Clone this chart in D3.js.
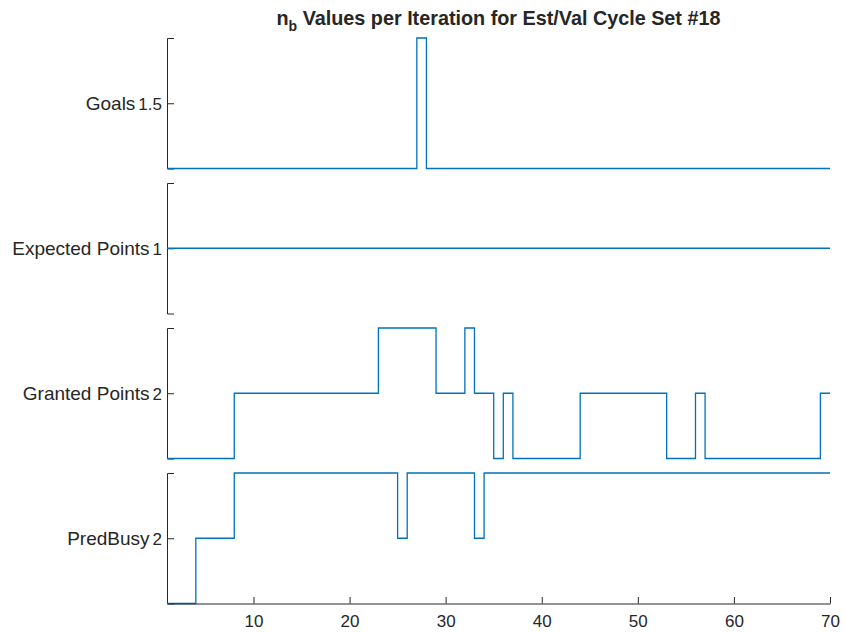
<!DOCTYPE html>
<html>
<head>
<meta charset="utf-8">
<script src="https://cdn.jsdelivr.net/npm/d3@7"></script>
<style>
  html, body { margin: 0; padding: 0; background: #ffffff; }
  svg text { font-family: "Liberation Sans", Arial, Helvetica, sans-serif; fill: #262626; }
</style>
</head>
<body>
<svg id="chart" width="846" height="633"></svg>
<script>
// n_b values per iteration, one entry per iteration (1..70)
const goals = [
  1,1,1,1,1,1,1,1,1,1,
  1,1,1,1,1,1,1,1,1,1,
  1,1,1,1,1,1,2,1,1,1,
  1,1,1,1,1,1,1,1,1,1,
  1,1,1,1,1,1,1,1,1,1,
  1,1,1,1,1,1,1,1,1,1,
  1,1,1,1,1,1,1,1,1,1
];
const expectedPoints = [
  1,1,1,1,1,1,1,1,1,1,
  1,1,1,1,1,1,1,1,1,1,
  1,1,1,1,1,1,1,1,1,1,
  1,1,1,1,1,1,1,1,1,1,
  1,1,1,1,1,1,1,1,1,1,
  1,1,1,1,1,1,1,1,1,1,
  1,1,1,1,1,1,1,1,1,1
];
const grantedPoints = [
  1,1,1,1,1,1,1,2,2,2,
  2,2,2,2,2,2,2,2,2,2,
  2,2,3,3,3,3,3,3,2,2,
  2,3,2,2,1,2,1,1,1,1,
  1,1,1,2,2,2,2,2,2,2,
  2,2,1,1,1,2,1,1,1,1,
  1,1,1,1,1,1,1,1,2,2
];
const predBusy = [
  1,1,1,2,2,2,2,3,3,3,
  3,3,3,3,3,3,3,3,3,3,
  3,3,3,3,2,3,3,3,3,3,
  3,3,2,3,3,3,3,3,3,3,
  3,3,3,3,3,3,3,3,3,3,
  3,3,3,3,3,3,3,3,3,3,
  3,3,3,3,3,3,3,3,3,3
];

const panelNames  = ["Goals", "Expected Points", "Granted Points", "PredBusy"];
const panelDomains = [[1, 2], [0.5, 1.5], [1, 3], [1, 3]];
const panelTicks   = [[1.5], [1], [2], [2]];
const xTicks = [10, 20, 30, 40, 50, 60, 70];
const title = "Values per Iteration for Est/Val Cycle Set #18";

const series = [goals, expectedPoints, grantedPoints, predBusy];

const svg = d3.select("#chart");
const axisColor = "#262626";
const lineColor = "#0072BD";

const left = 167, right = 830;
const panelTop0 = 38, panelStep = 145, panelH = 130.5;

const x = d3.scaleLinear().domain([1, 70]).range([left, right]);

series.forEach((vals, i) => {
  const top = panelTop0 + i * panelStep;
  const y = d3.scaleLinear().domain(panelDomains[i]).range([top + panelH, top]);
  const g = svg.append("g");

  // y axis with inward ticks
  const yAxis = d3.axisLeft(y)
    .tickValues(panelTicks[i])
    .tickSizeInner(-7)
    .tickSizeOuter(-7)
    .tickPadding(5)
    .tickFormat(d3.format(""));
  const ya = g.append("g").attr("transform", `translate(${left},0)`).call(yAxis);
  ya.select(".domain").attr("stroke", axisColor).attr("stroke-width", 1);
  ya.selectAll(".tick line").attr("stroke", axisColor);
  ya.selectAll(".tick text")
    .attr("font-size", 17)
    .attr("fill", axisColor)
    .attr("x", -5)
    .attr("dy", "0.35em")
    .style("font-family", "'Liberation Sans', Arial, sans-serif");

  // variable name to the left of the tick label
  const tickLabel = ya.select(".tick text").node();
  const labelW = tickLabel.getComputedTextLength();
  g.append("text")
    .attr("x", left - 5 - labelW - 3)
    .attr("y", y(panelTicks[i][0]))
    .attr("dy", "0.35em")
    .attr("text-anchor", "end")
    .attr("font-size", 19)
    .text(panelNames[i]);

  // stairs line
  const line = d3.line()
    .x((d, k) => x(k + 1))
    .y(d => y(d))
    .curve(d3.curveStepAfter);
  g.append("path")
    .datum(vals)
    .attr("fill", "none")
    .attr("stroke", lineColor)
    .attr("stroke-width", 1.3)
    .attr("d", line);

  // x axis on the bottom panel only
  if (i === series.length - 1) {
    const xAxis = d3.axisBottom(x)
      .tickValues(xTicks)
      .tickSizeInner(-6.5)
      .tickSizeOuter(0)
      .tickPadding(11)
      .tickFormat(d3.format("d"));
    const xa = svg.append("g").attr("transform", `translate(0,${top + panelH})`).call(xAxis);
    xa.select(".domain").attr("stroke", axisColor);
    xa.selectAll(".tick line").attr("stroke", axisColor);
    xa.selectAll(".tick text")
      .attr("font-size", 17)
      .attr("fill", axisColor)
      .style("font-family", "'Liberation Sans', Arial, sans-serif");
  }
});

// title with subscripted n_b
const t = svg.append("text")
  .attr("x", (left + right) / 2)
  .attr("y", 25)
  .attr("text-anchor", "middle")
  .attr("font-size", 19.8)
  .attr("font-weight", "bold");
t.append("tspan").text("n");
t.append("tspan").attr("font-size", 14).attr("dy", 6).text("b");
t.append("tspan").attr("dy", -6).text(" " + title);
</script>
</body>
</html>
